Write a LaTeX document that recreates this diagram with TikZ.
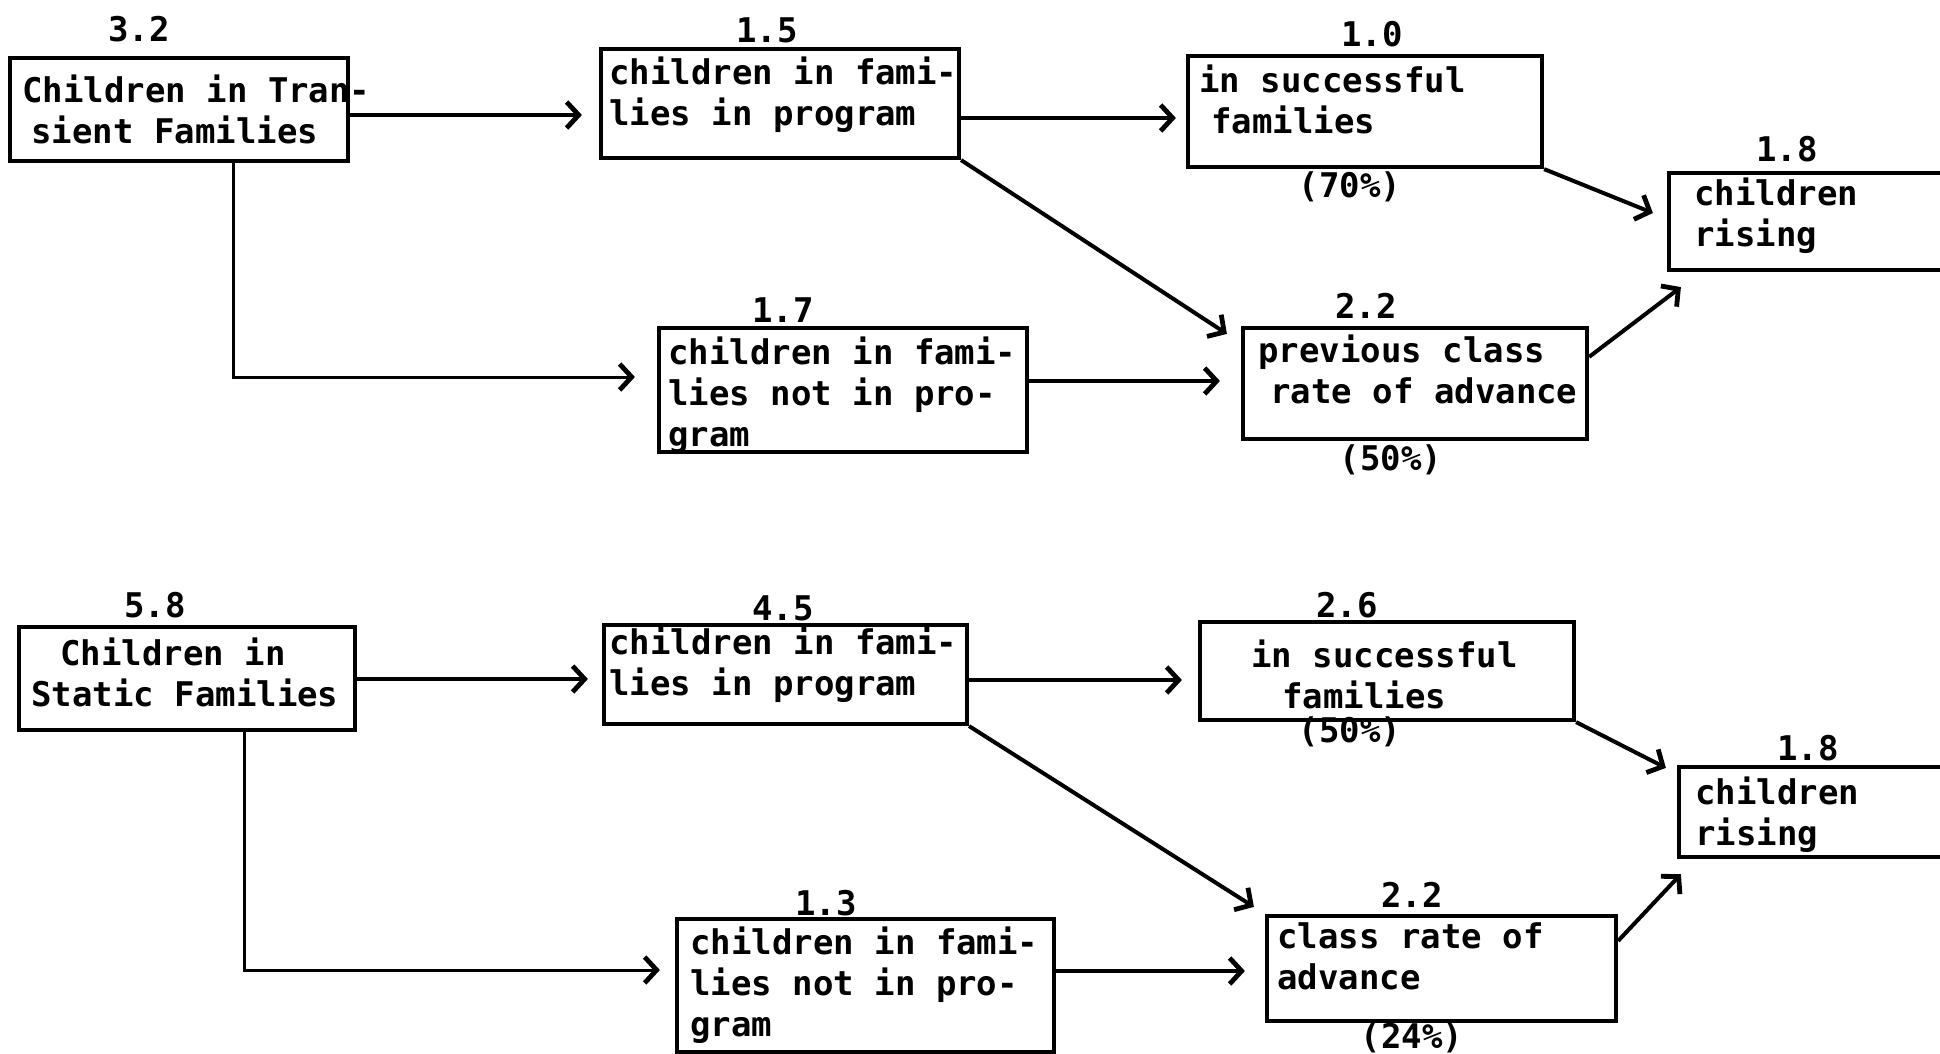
\documentclass[tikz,border=0pt]{standalone}
\usepackage{fontspec}
\setmonofont{DejaVu Sans Mono}
\usetikzlibrary{arrows.meta}

\tikzset{
  box/.style={draw, rectangle, line width=2.1pt, inner sep=0pt},
  txt/.style={anchor=north west, inner sep=0pt, align=left,
    font=\ttfamily\bfseries\fontsize{17}{20.5}\selectfont},
  num/.style={anchor=base, inner sep=0pt,
    font=\ttfamily\bfseries\fontsize{17}{20.5}\selectfont},
  conn/.style={line width=2pt, -{Straight Barb[length=6pt,width=13pt,line width=2.4pt]}}
}

\begin{document}
\begin{tikzpicture}[x=0.5pt, y=-0.5pt]
  \useasboundingbox (0,0) rectangle (1940,1054);
  \fill[white] (0,0) rectangle (1940,1054);
  \clip (0,0) rectangle (1940,1054);

  % Draw the boxes (name/center x/center y/width/height)
  \foreach \name/\x/\y/\w/\h in {A/179/109.5/338/103, B/780/103.5/358/109,
      C/1365/111.5/354/111, D/1824.5/221.5/311/97, E/843/390/368/124,
      F/1415/383.5/344/111, G/187/678.5/336/103, H/785.5/674.5/363/99,
      I/1387/671/374/98, J/1829.5/812/301/90, K/865.5/985.5/377/133,
      L/1441.5/968.5/349/105} {
    \node[box, minimum width=\w*0.5pt, minimum height=\h*0.5pt] (\name) at (\x,\y) {};
  }

  % Texts in the boxes
  \node[txt] (At) at (22,74) {Children in Tran-\\\hspace*{4.5pt}sient Families};
  \node[txt] (Bt) at (609,56) {children in fami-\\lies in program};
  \node[txt] (Ct) at (1199,64) {in successful\\\hspace*{6pt}families};
  \node[txt] (Dt) at (1694,177) {children\\rising};
  \node[txt] (Et) at (668,336) {children in fami-\\lies not in pro-\\gram};
  \node[txt] (Ft) at (1258,334) {previous class\\\hspace*{6pt}rate of advance};
  \node[txt] (Gt) at (31,637) {\hspace*{14.5pt}Children in\\Static Families};
  \node[txt] (Ht) at (609,626) {children in fami-\\lies in program};
  \node[txt] (It) at (1251,639) {in successful\\\hspace*{15.5pt}families};
  \node[txt] (Jt) at (1695,776) {children\\rising};
  \node[txt] (Kt) at (690,926) {children in fami-\\lies not in pro-\\gram};
  \node[txt] (Lt) at (1277,922) {class rate of\\advance};

  % Numbers and shares
  \foreach \name/\x/\y/\val in {nA/139/42/3.2, nB/767/43/1.5, nC/1372/47/1.0,
      pC/1350/198/(70\%), nD/1787/162/1.8, nE/783/322/1.7, nF/1366/318/2.2,
      pF/1391/470/(50\%), nG/155/617/5.8, nH/783/620/4.5, nI/1347/617/2.6,
      pI/1350/742/(50\%), nJ/1808/760/1.8, nK/826/915/1.3, nL/1412/907/2.2,
      pL/1412/1048/(24\%)} {
    \node[num] (\name) at (\x,\y) {\val};
  }

  % Transient families
  \draw[conn, shorten >=8.5pt] (A.east |- 0,115) -- (B.west |- 0,115);
  \draw[conn, shorten >=5pt] (B.east |- 0,118) -- (C.west |- 0,118);
  \draw[conn, line width=1.5pt, shorten >=11pt] (A.south -| 233,0) |- (E.west |- 0,377);
  \draw[conn, shorten >=10.5pt] (E.east |- 0,381) -- (F.west |- 0,381);
  \draw[conn] (B.south east) -- ([xshift=-7pt,yshift=-4pt]F.north west);
  \draw[conn] (C.south east) -- ([xshift=-7pt,yshift=4.25pt]D.west);
  \draw[conn] ([yshift=-15.5pt]F.north east) -- ([xshift=7pt,yshift=-7.5pt]D.south west);

  % Static families
  \draw[conn, shorten >=7pt] (G.east |- 0,679) -- (H.west |- 0,679);
  \draw[conn, shorten >=8pt] (H.east |- 0,680) -- (I.west |- 0,680);
  \draw[conn, line width=1.5pt, shorten >=7.5pt] (G.south -| 244,0) |- (K.west |- 0,970);
  \draw[conn, shorten >=10pt] (K.east |- 0,971) -- (L.west |- 0,971);
  \draw[conn] (H.south east) -- ([xshift=-5.5pt,yshift=3.5pt]L.north west);
  \draw[conn] (I.south east) -- ([xshift=-5.5pt,yshift=-1.5pt]J.north west);
  \draw[conn] ([yshift=-13.5pt]L.north east) -- ([xshift=2pt,yshift=-7.5pt]J.south west);
\end{tikzpicture}
\end{document}
